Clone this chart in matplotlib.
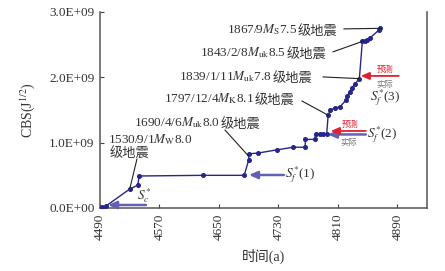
import matplotlib
matplotlib.use("Agg")
import matplotlib.pyplot as plt
from matplotlib.transforms import IdentityTransform

plt.rcParams['font.family'] = ['Liberation Serif', 'Noto Sans CJK SC']
plt.rcParams['mathtext.fontset'] = 'stix'

# data (x = year + 3000, CBS in units of 1e9 J^1/2)
years = [4493, 4498, 4530, 4541, 4542.5, 4629, 4684, 4690, 4690.5, 4702, 4728,
         4750, 4766, 4766.5, 4779, 4780, 4786, 4790, 4795, 4797, 4800, 4806,
         4813, 4821, 4823, 4826, 4829, 4833, 4839, 4843, 4846, 4849, 4853,
         4866, 4867]
cbs = [0.01, 0.03, 0.29, 0.35, 0.49, 0.50, 0.50, 0.73, 0.83, 0.84, 0.89,
       0.93, 0.93, 1.05, 1.05, 1.13, 1.13, 1.13, 1.13, 1.42, 1.50, 1.53,
       1.55, 1.65, 1.72, 1.78, 1.84, 1.90, 1.98, 2.55, 2.56, 2.57, 2.60,
       2.73, 2.76]
cbs = [v * 1e9 for v in cbs]

xticks = [4490, 4570, 4650, 4730, 4810, 4890]
yticks = [0, 1e9, 2e9, 3e9]
ytick_labels = ['0.0E+00', '1.0E+09', '2.0E+09', '3.0E+09']

W, H = 445, 271
fig = plt.figure(figsize=(W / 100, H / 100), dpi=100)
ax = fig.add_axes([100 / W, 1 - 208 / H, 327 / W, 196 / H])

line_c = '#26268a'
ax.plot(years, cbs, color=line_c, lw=1.0, marker='o', ms=2.6, mfc=line_c, mec=line_c, zorder=3)

ax.set_xlim(4490, 4930)
ax.set_ylim(0, 3e9)
ax.set_xticks(xticks)
ax.set_xticklabels([str(t) for t in xticks], rotation=90, fontsize=9.5, color='#333333')
ax.set_yticks(yticks)
ax.set_yticklabels(ytick_labels, fontsize=9.5, color='#333333')
ax.tick_params(direction='in', length=3, width=0.8, color='#444444', pad=4)
ax.spines['top'].set_visible(False)
for s in ['left', 'right', 'bottom']:
    ax.spines[s].set_color('#555555')
    ax.spines[s].set_linewidth(1.1)
ax.set_ylabel(r'CBS(J$^{1/2}$)', fontsize=10, color='#333333', labelpad=9)
ax.set_xlabel('时间(a)', fontsize=10, color='#333333', labelpad=6, fontweight='light')


def P(px, py):
    """convert reference-image pixel position to data coordinates (for annotation layout)"""
    return (4490 + (px - 100) * 80 / 59.5, (208 - py) / 65.3 * 1e9)


tc = '#333333'
fs = 9.5
lead = dict(arrowstyle='-', color='#222222', lw=0.8, shrinkA=0, shrinkB=0)

labels = [
    (227, 29, r'1867/9$M_{\mathrm{S}}$7.5', '级地震'),
    (200, 52, r'1843/2/8$M_{\mathrm{uk}}$8.5', '级地震'),
    (179, 76, r'1839/1/11$M_{\mathrm{uk}}$7.8', '级地震'),
    (164, 98, r'1797/12/4$M_{\mathrm{K}}$8.1', '级地震'),
    (134, 122, r'1690/4/6$M_{\mathrm{uk}}$8.0', '级地震'),
    (108, 139, r'1530/9/1$M_{\mathrm{W}}$8.0', ''),
]
pending = []
for px, py, latin, cjk in labels:
    t = ax.text(*P(px, py + 4), latin, fontsize=fs, color=tc, ha='left', va='baseline')
    pending.append((t, P(px, py + 4), cjk))
ax.text(*P(110, 158), '级地震', fontsize=fs, color=tc, ha='left', va='baseline',
        fontweight='light')

fig.canvas.draw()
r = fig.canvas.get_renderer()
for t, pos, cjk in pending:
    if cjk:
        bb = t.get_window_extent(r)
        yb = ax.transData.transform(pos)[1] - 2.5
        fig.text(bb.x1 + 0.5, yb, cjk, transform=IdentityTransform(), fontsize=fs, color=tc,
                 ha='left', va='baseline', fontweight='light')

# leader lines
leaders = [
    ((344, 29), (4866.5, 2.75e9)),
    ((333, 52), (4843, 2.55e9)),
    ((323, 77), (4839, 1.98e9)),
    ((302, 101), (4797, 1.42e9)),
    ((225, 130), (4689.5, 0.80e9)),
    ((137, 159), (4530, 0.29e9)),
]
for start, end in leaders:
    ax.annotate('', xy=end, xytext=P(*start), arrowprops=lead)

# S labels and arrows
blue_arrow = dict(arrowstyle='-|>,head_length=0.5,head_width=0.22', color='#6262b0', lw=1.8,
                  shrinkA=0, shrinkB=0)
red_arrow = dict(arrowstyle='-|>,head_length=0.5,head_width=0.22', color='#e02030', lw=1.3,
                 shrinkA=0, shrinkB=0)

ax.annotate('', xy=P(108, 205), xytext=P(146, 205), arrowprops=blue_arrow)
ax.text(*P(137, 196), r'$S_{c}^{*}$', fontsize=fs, color=tc, ha='left', va='center')

ax.annotate('', xy=P(249, 175), xytext=P(284, 175), arrowprops=blue_arrow)
ax.text(*P(285, 175), r'$S_{f}^{*}$(1)', fontsize=fs, color=tc, ha='left', va='center')

ax.annotate('', xy=P(328, 134.5), xytext=P(366, 134.5), arrowprops=blue_arrow)
ax.annotate('', xy=P(331, 131), xytext=P(366, 131), arrowprops=red_arrow)
ax.text(*P(350, 125), '预测', fontsize=6, color='#e02030', ha='center', va='center')
ax.text(*P(349, 143), '实际', fontsize=6, color='#777777', ha='center', va='center')
ax.text(*P(367, 135), r'$S_{f}^{*}$(2)', fontsize=fs, color=tc, ha='left', va='center')

ax.annotate('', xy=P(361, 76), xytext=P(399, 76), arrowprops=red_arrow)
ax.text(*P(385, 70), '预测', fontsize=6, color='#e02030', ha='center', va='center')
ax.text(*P(385, 85), '实际', fontsize=6, color='#777777', ha='center', va='center')
ax.text(*P(370, 98), r'$S_{f}^{*}$(3)', fontsize=fs, color=tc, ha='left', va='center')

fig.savefig('out.png', dpi=100, facecolor='white')
